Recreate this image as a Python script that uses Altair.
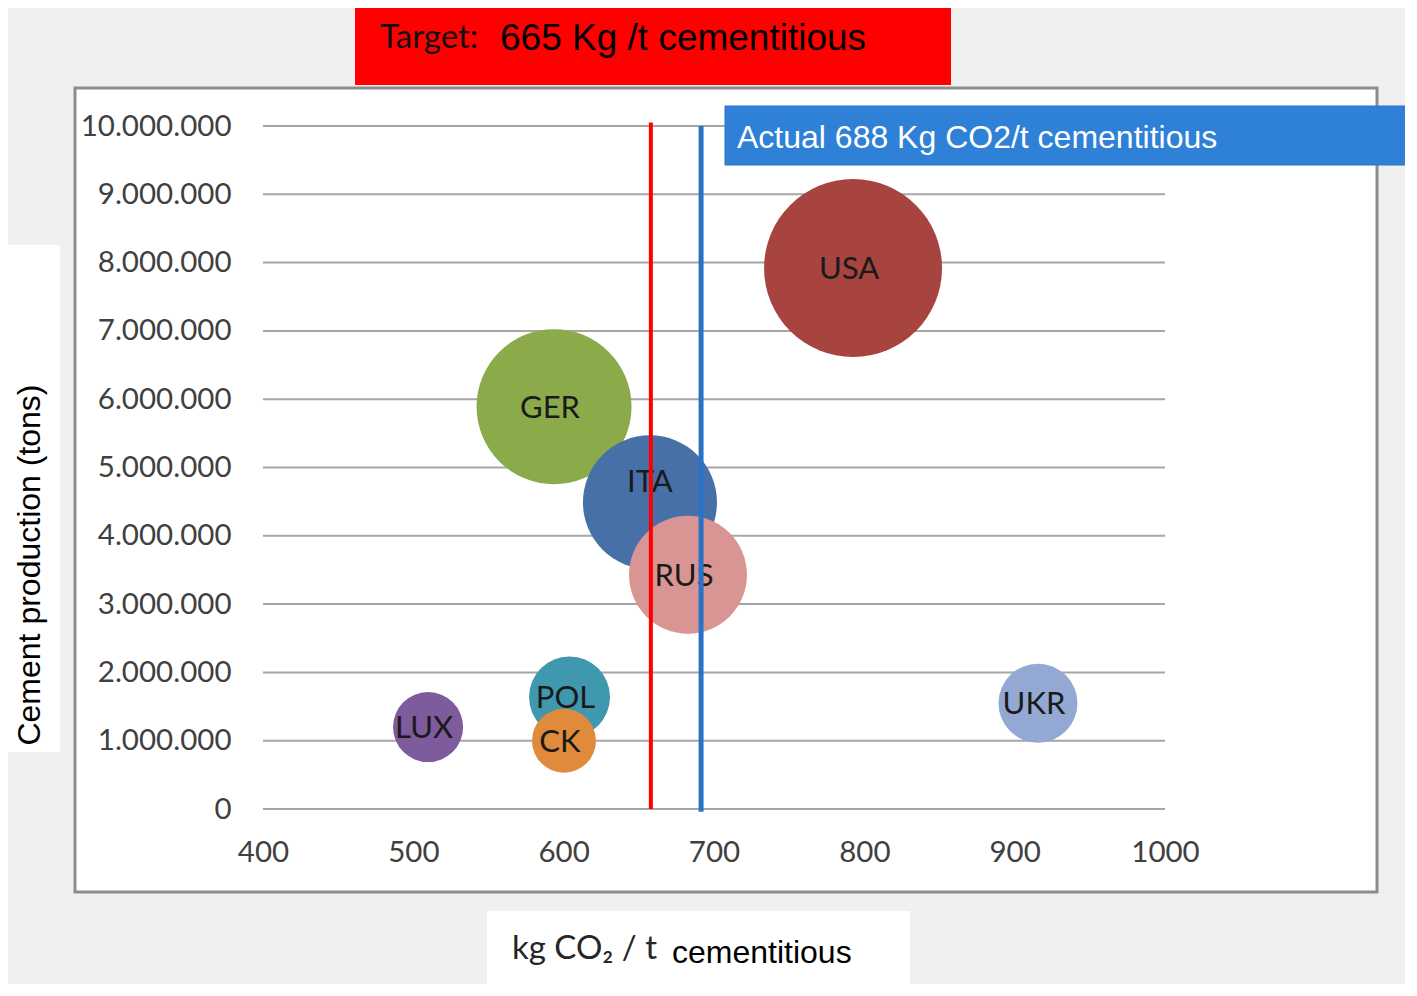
import altair as alt
import pandas as pd

# ---- data ----
countries = ["USA", "GER", "ITA", "RUS", "POL", "CK", "LUX", "UKR"]
kg_co2 = [792.5, 593.6, 657.4, 682.7, 603.9, 600.2, 509.8, 915.5]
production = [7920000, 5890000, 4490000, 3430000, 1640000, 1000000, 1200000, 1550000]
bubble_size = [100, 75.8, 56.7, 43.9, 20.7, 12.9, 15.5, 19.7]
colors = ["#a74440", "#8baa4a", "#4770a8", "#d89594", "#4098ae", "#e08a3c", "#7d5b9c", "#94a8d4"]

x_ticks = [400, 500, 600, 700, 800, 900, 1000]
y_ticks = [0, 1000000, 2000000, 3000000, 4000000, 5000000, 6000000, 7000000, 8000000, 9000000, 10000000]

target_x = 658
actual_x = 691.4

W, H = 902, 683
LATO = "Lato"
ARIAL = "Liberation Sans"

df = pd.DataFrame({"country": countries, "kg": kg_co2, "prod": production, "size": bubble_size})
one = pd.DataFrame({"a": [0]})

xs = alt.Scale(domain=[400, 1000], nice=False, zero=False)
ys = alt.Scale(domain=[0, 10000000], nice=False)

panel = alt.Chart(one).mark_rect(fill="white", stroke="#8c8c8c", strokeWidth=3).encode(
    x=alt.value(-188), x2=alt.value(1114), y=alt.value(-38), y2=alt.value(766))
ytitle_box = alt.Chart(one).mark_rect(fill="white").encode(
    x=alt.value(-270), x2=alt.value(-203), y=alt.value(119), y2=alt.value(626))
xtitle_box = alt.Chart(one).mark_rect(fill="white").encode(
    x=alt.value(224), x2=alt.value(647), y=alt.value(785), y2=alt.value(880))
red_box = alt.Chart(one).mark_rect(fill="#ff0000").encode(
    x=alt.value(92), x2=alt.value(688), y=alt.value(-130), y2=alt.value(-41))

grid = alt.Chart(pd.DataFrame({"t": y_ticks})).mark_rule(color="#a6a6a6", strokeWidth=2).encode(
    y=alt.Y("t:Q", scale=ys),
    x=alt.value(0), x2=alt.value(W))

axes = alt.Chart(df).mark_point(opacity=0).encode(
    x=alt.X("kg:Q", scale=xs, title=None,
            axis=alt.Axis(values=x_ticks, format="d", grid=False, domain=False, ticks=False,
                          labelFont=LATO, labelFontSize=29.5, labelColor="#404040",
                          labelPadding=29, labelBaseline="top", labelFlush=False, zindex=1)),
    y=alt.Y("prod:Q", scale=ys, title=None,
            axis=alt.Axis(values=y_ticks, grid=False, domain=False, ticks=False,
                          labelExpr="replace(format(datum.value, ',d'), regexp(',', 'g'), '.')",
                          labelFont=LATO, labelFontSize=29.5, labelColor="#404040",
                          labelPadding=32, labelFlush=False, zindex=1)))

bubbles = alt.Chart(df).mark_circle(opacity=1).encode(
    x=alt.X("kg:Q", scale=xs),
    y=alt.Y("prod:Q", scale=ys),
    size=alt.Size("size:Q", scale=alt.Scale(domain=[0, 100], range=[0, 31684]), legend=None),
    color=alt.Color("country:N", scale=alt.Scale(domain=countries, range=colors), legend=None))

labels = alt.Chart(df).transform_filter(alt.datum.country != "ITA").mark_text(
    font=LATO, fontSize=31, color="#1a1a1a", align="center", baseline="middle", dx=-4, dy=2).encode(
    x=alt.X("kg:Q", scale=xs), y=alt.Y("prod:Q", scale=ys), text="country:N")
label_ita = alt.Chart(df).transform_filter(alt.datum.country == "ITA").mark_text(
    font=LATO, fontSize=31, color="#1a1a1a", align="center", baseline="middle", dy=-19).encode(
    x=alt.X("kg:Q", scale=xs), y=alt.Y("prod:Q", scale=ys), text="country:N")

red_line = alt.Chart(pd.DataFrame({"x": [target_x], "y0": [0], "y1": [10050000]})).mark_rule(
    color="#ff0000", strokeWidth=4).encode(
    x=alt.X("x:Q", scale=xs), y=alt.Y("y0:Q", scale=ys), y2="y1:Q")
blue_line = alt.Chart(pd.DataFrame({"x": [actual_x], "y0": [-40000], "y1": [10000000]})).mark_rule(
    color="#2a72c4", strokeWidth=5).encode(
    x=alt.X("x:Q", scale=xs), y=alt.Y("y0:Q", scale=ys), y2="y1:Q")

blue_box = alt.Chart(one).mark_rect(fill="#2e81d6", stroke="#2a74c2", strokeWidth=1).encode(
    x=alt.value(462), x2=alt.value(1160), y=alt.value(-20), y2=alt.value(39))
blue_text = alt.Chart(one).mark_text(font=ARIAL, fontSize=32, color="white", align="left",
                                     baseline="alphabetic").encode(
    x=alt.value(474), y=alt.value(22), text=alt.value("Actual 688 Kg CO2/t cementitious"))

target_lbl = alt.Chart(one).mark_text(font=LATO, fontSize=33, color="#111111", align="left",
                                      baseline="alphabetic").encode(
    x=alt.value(117), y=alt.value(-78), text=alt.value("Target:"))
target_txt = alt.Chart(one).mark_text(font=ARIAL, fontSize=37, color="#000000", align="left",
                                      baseline="alphabetic").encode(
    x=alt.value(237), y=alt.value(-76), text=alt.value("665 Kg /t cementitious"))

ytitle = alt.Chart(one).mark_text(font=ARIAL, fontSize=32, color="#000000", angle=270,
                                  align="center", baseline="middle").encode(
    x=alt.value(-233), y=alt.value(439), text=alt.value("Cement production (tons)"))
xtitle_a = alt.Chart(one).mark_text(font=LATO, fontSize=33, color="#262626", align="left",
                                    baseline="alphabetic").encode(
    x=alt.value(249), y=alt.value(833), text=alt.value("kg CO\u2082 / t"))
xtitle_b = alt.Chart(one).mark_text(font=ARIAL, fontSize=32, color="#000000", align="left",
                                    baseline="alphabetic").encode(
    x=alt.value(409), y=alt.value(837), text=alt.value("cementitious"))

chart = alt.layer(
    panel, ytitle_box, xtitle_box, red_box, grid, axes, bubbles, labels, label_ita,
    red_line, blue_line, blue_box, blue_text, target_lbl, target_txt, ytitle, xtitle_a, xtitle_b
).properties(
    width=W, height=H,
    padding={"left": 255, "top": 118, "right": 240, "bottom": 175},
    autosize=alt.AutoSizeParams(type="none"),
    background="#f0f0f0",
).configure_view(strokeWidth=0)

chart.save("out.html", embed_options={"renderer": "svg", "actions": False})
